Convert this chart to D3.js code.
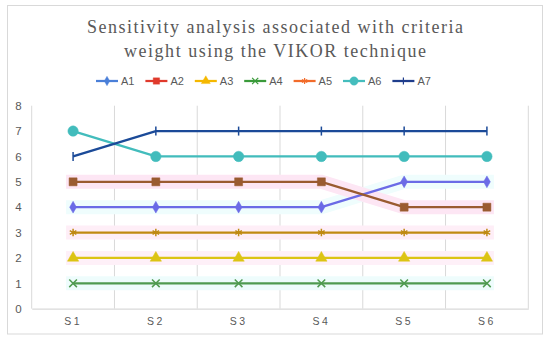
<!DOCTYPE html>
<html>
<head>
<meta charset="utf-8">
<script src="https://cdn.jsdelivr.net/npm/d3@7"></script>
<style>
  body { margin: 0; background: #fff; }
  svg { display: block; }
  .axis text { fill: #595959; font-family: "Liberation Sans", Arial, sans-serif; }
</style>
</head>
<body>
<svg id="chart" width="550" height="341"></svg>
<script>
// data
const categories = ["S1", "S2", "S3", "S4", "S5", "S6"];
const seriesNames = ["A1", "A2", "A3", "A4", "A5", "A6", "A7"];
const a1 = [4, 4, 4, 4, 5, 5];
const a2 = [5, 5, 5, 5, 4, 4];
const a3 = [2, 2, 2, 2, 2, 2];
const a4 = [1, 1, 1, 1, 1, 1];
const a5 = [3, 3, 3, 3, 3, 3];
const a6 = [7, 6, 6, 6, 6, 6];
const a7 = [6, 7, 7, 7, 7, 7];
const yTicks = [0, 1, 2, 3, 4, 5, 6, 7, 8];
const titleLines = ["Sensitivity analysis associated with criteria", "weight using the VIKOR technique"];

const seriesValues = [a1, a2, a3, a4, a5, a6, a7];
// line colours in plot vs legend colours (they differ in the source)
const plotColors = ["#6b6be6", "#9a5b30", "#dcc414", "#4f9a50", "#bf8a12", "#42bcbc", "#1b4a98"];
const legendColors = ["#4a7fd8", "#e03a2c", "#f5b800", "#3a9a3a", "#f26b2a", "#45bdbd", "#1f3d8c"];
const haloColors = ["#effdfd", "#fde6f4", "#fef0f8", "#eefcfc", "#feeef7", null, null];
const symbols = [d3.symbolDiamond, d3.symbolSquare, d3.symbolTriangle, d3.symbolTimes, d3.symbolAsterisk, d3.symbolCircle, "tick"];
const symbolSizes = [40, 64, 55, 40, 40, 85, 0];

const svg = d3.select("#chart");

//outer frame
svg.append("rect")
    .attr("x", 7.5).attr("y", 5.5)
    .attr("width", 535).attr("height", 328.5)
    .attr("fill", "#fff")
    .attr("stroke", "#d9d9d9");

//title
svg.selectAll(".title")
    .data(titleLines)
    .enter()
    .append("text")
    .attr("class", "title")
    .attr("x", 275)
    .attr("y", (d, i) => 33 + i * 24)
    .attr("text-anchor", "middle")
    .attr("textLength", (d, i) => i === 0 ? 376 : 302)
    .attr("lengthAdjust", "spacing")
    .style("font-family", "'Liberation Serif', 'DejaVu Serif', serif")
    .style("font-size", "18px")
    .style("fill", "#595959")
    .text(d => d);

//scales
const x = d3.scaleBand()
    .domain(categories)
    .range([31.7, 528.3]);
const y = d3.scaleLinear()
    .domain([0, 8])
    .range([308.7, 105.7]);
const cx = d => x(d) + x.bandwidth() / 2;

//vertical gridlines at band edges
const edges = categories.map(c => x(c)).concat([x.range()[1]]);
svg.append("g")
    .selectAll("line")
    .data(edges)
    .enter()
    .append("line")
    .attr("x1", d => d).attr("x2", d => d)
    .attr("y1", y(8)).attr("y2", y(0))
    .attr("stroke", "#d9d9d9")
    .attr("stroke-width", 1);

//axes
svg.append("g")
    .attr("class", "axis")
    .attr("transform", "translate(31.7,0)")
    .call(d3.axisLeft(y).tickValues(yTicks).tickSize(0).tickPadding(10).tickFormat(d3.format("d")))
    .call(g => g.select(".domain").remove())
    .selectAll("text")
    .style("font-size", "11.5px");

const xAxis = svg.append("g")
    .attr("class", "axis")
    .attr("transform", "translate(0," + y(0) + ")")
    .call(d3.axisBottom(x).tickSize(0).tickSizeOuter(0).tickPadding(9));
xAxis.select(".domain").attr("stroke", "#d9d9d9").attr("stroke-width", 1.3);
xAxis.selectAll("text")
    .style("font-size", "10.5px")
    .style("letter-spacing", "2.5px")
    .text(d => d);

//series
const line = d3.line()
    .x((d, i) => cx(categories[i]))
    .y(d => y(d));

function drawMarker(g, k, color) {
    if (symbols[k] === "tick") {
        g.append("line")
            .attr("x1", 0).attr("x2", 0).attr("y1", -4.5).attr("y2", 4.5)
            .attr("stroke", color).attr("stroke-width", 1.5);
    } else {
        const stroked = symbols[k] === d3.symbolTimes || symbols[k] === d3.symbolAsterisk;
        g.append("path")
            .attr("d", d3.symbol().type(symbols[k]).size(symbolSizes[k])())
            .attr("fill", stroked ? "none" : color)
            .attr("stroke", color)
            .attr("stroke-width", stroked ? 1.5 : 0.5);
    }
}

//faint halos behind some lines
seriesValues.forEach(function (vals, k) {
    if (!haloColors[k]) return;
    svg.append("path")
        .datum(vals)
        .attr("d", line)
        .attr("fill", "none")
        .attr("stroke", haloColors[k])
        .attr("stroke-width", 14)
        .attr("stroke-linecap", "square");
});

seriesValues.forEach(function (vals, k) {
    svg.append("path")
        .datum(vals)
        .attr("d", line)
        .attr("fill", "none")
        .attr("stroke", plotColors[k])
        .attr("stroke-width", 2.25)
        .attr("stroke-linejoin", "round");
    vals.forEach(function (v, i) {
        const g = svg.append("g")
            .attr("transform", "translate(" + cx(categories[i]) + "," + y(v) + ")");
        drawMarker(g, k, plotColors[k]);
    });
});

//legend
const legend = svg.append("g").attr("class", "legend");
seriesNames.forEach(function (name, k) {
    const lx = 96 + k * 49.4;
    const g = legend.append("g").attr("transform", "translate(" + lx + ",81)");
    g.append("line")
        .attr("x1", 0).attr("x2", 22)
        .attr("stroke", legendColors[k])
        .attr("stroke-width", 2.25);
    const m = g.append("g").attr("transform", "translate(11,0) scale(0.8)");
    drawMarker(m, k, legendColors[k]);
    g.append("text")
        .attr("x", 25)
        .attr("y", 4)
        .style("font-family", "'Liberation Sans', Arial, sans-serif")
        .style("font-size", "11px")
        .style("fill", "#595959")
        .text(name);
});
</script>
</body>
</html>
